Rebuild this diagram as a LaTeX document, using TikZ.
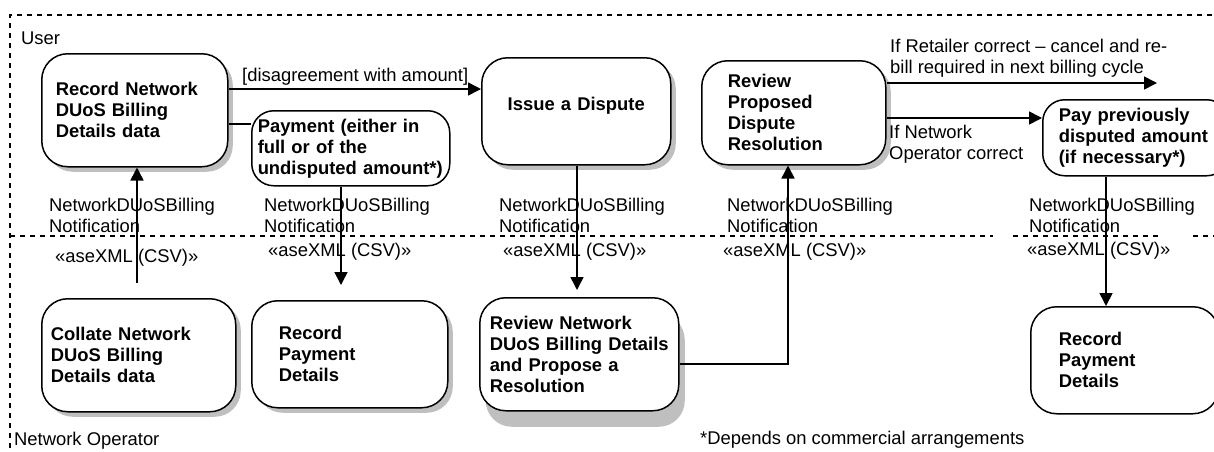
\documentclass[tikz,border=0pt]{standalone}
\usepackage{fontspec}
\setmainfont{Liberation Sans}
\usetikzlibrary{arrows.meta,shadows}
\begin{document}
\begin{tikzpicture}[x=1pt,y=-1pt,
  every node/.style={font=\fontsize{18.4}{21}\selectfont},
  act/.style={draw, line width=1.5pt, rounded corners=26pt, fill=white, anchor=north west,
    inner ysep=0pt, align=left, font=\fontsize{18.4}{21}\selectfont\bfseries},
  shad/.style={drop shadow={shadow xshift=5pt, shadow yshift=-5pt, fill=black!25, opacity=1}},
  lbl/.style={inner sep=0pt, anchor=west, align=left},
  arr/.style={draw, line width=1.6pt, -{Triangle[length=13pt,width=13pt]}},
  ln/.style={draw, line width=1.6pt},
  frame/.style={draw, line width=1.3pt, dash pattern=on 5pt off 5pt}]
\useasboundingbox (0,0) rectangle (1214,451);
\clip (0,0) rectangle (1214,451);

% frame
\draw[frame] (1212,15) -- (10,15) -- (10,451);
\draw[frame] (10,236) -- (993,236);
\draw[frame] (1013,236) -- (1158,236);
\draw[frame] (1193,236) -- (1214,236);

\node[lbl] (user) at (21,38) {User};
\node[lbl] (netop) at (14,441) {Network Operator};
\node[lbl] (note) at (700,440) {*Depends on commercial arrangements};

% activities
\node[act, shad, minimum width=186pt, minimum height=113pt, text width=158pt, inner xsep=14pt] (rec) at (41,53)
  {Record Network\\DUoS Billing\\Details data};
\node[act, minimum width=196pt, minimum height=75pt, text width=186pt, inner xsep=6pt, rounded corners=22pt] (pay) at (251,110)
  {Payment (either in\\full or of the\\undisputed amount*)};
\node[act, shad, minimum width=189pt, minimum height=107pt, text width=175pt, inner xsep=7pt, align=center] (issue) at (481,57)
  {Issue a Dispute\\[-7pt]\mbox{}};
\node[act, shad, minimum width=184pt, minimum height=104pt, text width=132pt, inner xsep=26pt] (revp) at (701,60)
  {Review\\Proposed\\Dispute\\Resolution};
\node[act, minimum height=76pt, text width=154pt, inner xsep=16pt, rounded corners=22pt] (paid) at (1042,99)
  {Pay previously\\disputed amount\\(if necessary*)};
\node[act, shad, minimum width=194pt, minimum height=113pt, text width=176pt, inner xsep=9pt] (col) at (41,298)
  {Collate Network\\DUoS Billing\\Details data};
\node[act, shad, minimum width=196pt, minimum height=107pt, text width=142pt, inner xsep=27pt] (rpd1) at (251,300)
  {Record\\Payment\\Details};
\node[act, drop shadow={shadow xshift=6pt, shadow yshift=-16pt, fill=black!25, opacity=1},
  minimum width=199pt, minimum height=113pt, text width=179pt, inner xsep=10pt] (revn) at (479,297)
  {Review Network\\DUoS Billing Details\\and Propose a\\Resolution};
\node[act, minimum width=188pt, minimum height=107pt, text width=132pt, inner xsep=28pt] (rpd2) at (1030,306)
  {Record\\Payment\\Details};

% helper coordinates
\coordinate (c1) at (137,283);
\coordinate (c2) at (341,285);
\coordinate (c3) at (577,290);
\coordinate (c4) at (788,364);
\coordinate (c5) at (1157,83);
\coordinate (c6) at (1106,306);
\coordinate (c7) at (227,89);
\coordinate (c8) at (227,124);
\coordinate (c9) at (885,118);

% connectors
\draw[arr] (c1) -- (c1 |- rec.south);
\draw[arr] (c2 |- pay.south) -- (c2);
\draw[arr] (c3 |- issue.south) -- (c3);
\draw[arr] (c4 -| revn.east) -- (c4) -- (c4 |- revp.south);
\draw[arr] (c5 -| revp.east) -- (c5);
\draw[arr] (c9 -| revp.east) -- (c9 -| paid.west);
\draw[arr] (c6 |- paid.south) -- (c6 |- rpd2.north);
\draw[arr] (c7 -| rec.east) -- (c7 -| issue.west);
\draw[ln] (c8 -| rec.east) -- (c8 -| pay.west);

% connector labels
\node[lbl] (l1) at (242,77) {[disagreement with amount]};
\node[lbl] (l2) at (890,58) {If Retailer correct -- cancel and re-\\bill required in next billing cycle};
\node[lbl] (l3) at (889,144) {If Network\\Operator correct};

\node[lbl] (n1) at (49,215) {NetworkDUoSBilling\\Notification};
\node[lbl] (n2) at (264,215) {NetworkDUoSBilling\\Notification};
\node[lbl] (n3) at (499,215) {NetworkDUoSBilling\\Notification};
\node[lbl] (n4) at (727,215) {NetworkDUoSBilling\\Notification};
\node[lbl] (n5) at (1029,215) {NetworkDUoSBilling\\Notification};

\node[lbl] (x1) at (55,258) {«aseXML (CSV)»};
\node[lbl] (x2) at (268,252) {«aseXML (CSV)»};
\node[lbl] (x3) at (503,252) {«aseXML (CSV)»};
\node[lbl] (x4) at (723,252) {«aseXML (CSV)»};
\node[lbl] (x5) at (1027,251) {«aseXML (CSV)»};
\end{tikzpicture}
\end{document}
